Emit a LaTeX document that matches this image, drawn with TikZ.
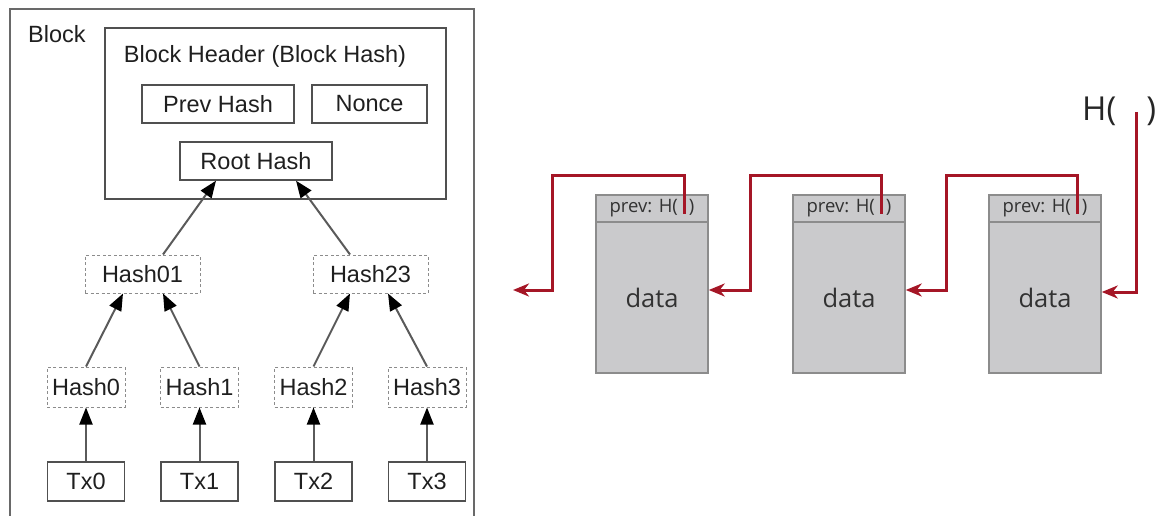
\documentclass[tikz,border=0pt]{standalone}
\usepackage{fontspec}
\setmainfont{Liberation Sans}
\newfontfamily\chainfont{Open Sans}
\usetikzlibrary{arrows.meta,calc}

\definecolor{chainred}{RGB}{165,22,38}
\definecolor{blockfill}{RGB}{202,202,204}
\definecolor{blockedge}{RGB}{140,140,140}
\definecolor{boxedge}{RGB}{80,80,80}
\definecolor{frameedge}{RGB}{105,105,105}
\definecolor{dashedge}{RGB}{140,140,140}
\definecolor{linkgray}{RGB}{90,90,90}
\definecolor{chaintext}{RGB}{50,50,50}

\begin{document}
\begin{tikzpicture}[x=1pt,y=-1pt,
  treefont/.style={font=\fontsize{23.5}{26}\selectfont, text=black!88},
  solidbox/.style={treefont, draw=boxedge, line width=1.4pt, inner sep=0pt},
  hashbox/.style={treefont, draw=dashedge, line width=1pt,
    dash pattern=on 3pt off 2.5pt, inner sep=0pt},
  treearrow/.style={draw=linkgray, line width=2pt,
    -{Triangle[length=17pt,width=13pt,fill=black,color=black]}},
  chainhead/.style={draw=blockedge, fill=blockfill, line width=1.5pt,
    minimum width=112pt, minimum height=27pt, inner sep=0pt,
    font=\chainfont\fontsize{18.5}{20}\selectfont, text=chaintext},
  chainbody/.style={draw=blockedge, fill=blockfill, line width=1.5pt,
    minimum width=112pt, minimum height=151pt, inner sep=0pt,
    font=\chainfont\fontsize{25.5}{28}\selectfont, text=chaintext},
  chainlink/.style={draw=chainred, line width=3pt,
    -{Stealth[length=16pt,width=13pt,inset=5pt]}},
]
\useasboundingbox (0,0) rectangle (1163,516);

% ---------- block with Merkle tree ----------
\draw[frameedge, line width=1.6pt] (10,516) -- (10,9) -- (474,9) -- (474,516);
\node[treefont, anchor=base west, inner sep=0pt] (blocklbl) at (28,43) {Block};

\node[draw=boxedge, line width=1.4pt, minimum width=341pt, minimum height=171pt,
      inner sep=0pt] (hdr) at (275.5,113.5) {};
\node[treefont, anchor=base, inner sep=0pt] (hdrlbl) at (265,63) {Block Header (Block Hash)};

\node[solidbox, minimum width=152pt, minimum height=38pt] (prev)  at (218,104)   {Prev Hash};
\node[solidbox, minimum width=115pt, minimum height=38pt] (nonce) at (369.5,104) {Nonce};
\node[solidbox, minimum width=152pt, minimum height=38pt] (root)  at (256,161)   {Root Hash};

\node[hashbox, minimum width=115pt, minimum height=38pt] (h01) at (142.5,274) {Hash01};
\node[hashbox, minimum width=115pt, minimum height=38pt] (h23) at (370.5,274) {Hash23};

\foreach \i/\x in {0/86,1/199.5,2/313.5,3/427}{
  \node[hashbox, minimum width=78pt, minimum height=40pt] (h\i) at (\x,387) {Hash\i};
  \node[solidbox, minimum width=77pt, minimum height=39pt] (tx\i) at (\x,481.5) {Tx\i};
}

\draw[treearrow] ([xshift=20.5pt]h01.north) -- ([xshift=-40pt]root.south);
\draw[treearrow] ([xshift=-20.5pt]h23.north) -- ([xshift=40pt]root.south);
\draw[treearrow] (h0.north) -- ([xshift=-19.5pt]h01.south);
\draw[treearrow] (h1.north) -- ([xshift=20.5pt]h01.south);
\draw[treearrow] (h2.north) -- ([xshift=-20.5pt]h23.south);
\draw[treearrow] (h3.north) -- ([xshift=17.5pt]h23.south);
\foreach \i in {0,1,2,3}{
  \draw[treearrow] (tx\i.north) -- (h\i.south);
}

% ---------- hash chain ----------
\foreach \i/\x in {1/652,2/849,3/1045}{
  \node[chainhead] (hd\i) at (\x,208.5) {prev: H(\hspace{11pt})};
  \node[chainbody] (b\i)  at (\x,297.5) {data};
  \coordinate (s\i) at ($(hd\i.center)+(32,5.5)$);
}
\node[font=\chainfont\fontsize{33}{36}\selectfont, text=black!85, anchor=base west,
      inner sep=0pt] (hfun) at (1082,121) {H(\hspace{30pt})};

\coordinate (k1) at (552,176);
\coordinate (k2) at (750,176);
\coordinate (k3) at (946,176);
\coordinate (end0) at (513,290);
\coordinate (hs) at (1136,112);

\draw[chainlink] (s1) |- (k1) |- (end0);
\draw[chainlink] (s2) |- (k2) |- ([yshift=7.5pt]b1.east);
\draw[chainlink] (s3) |- (k3) |- ([yshift=7.5pt]b2.east);
\draw[chainlink] (hs) |- ([yshift=5.5pt]b3.east);
\end{tikzpicture}
\end{document}
